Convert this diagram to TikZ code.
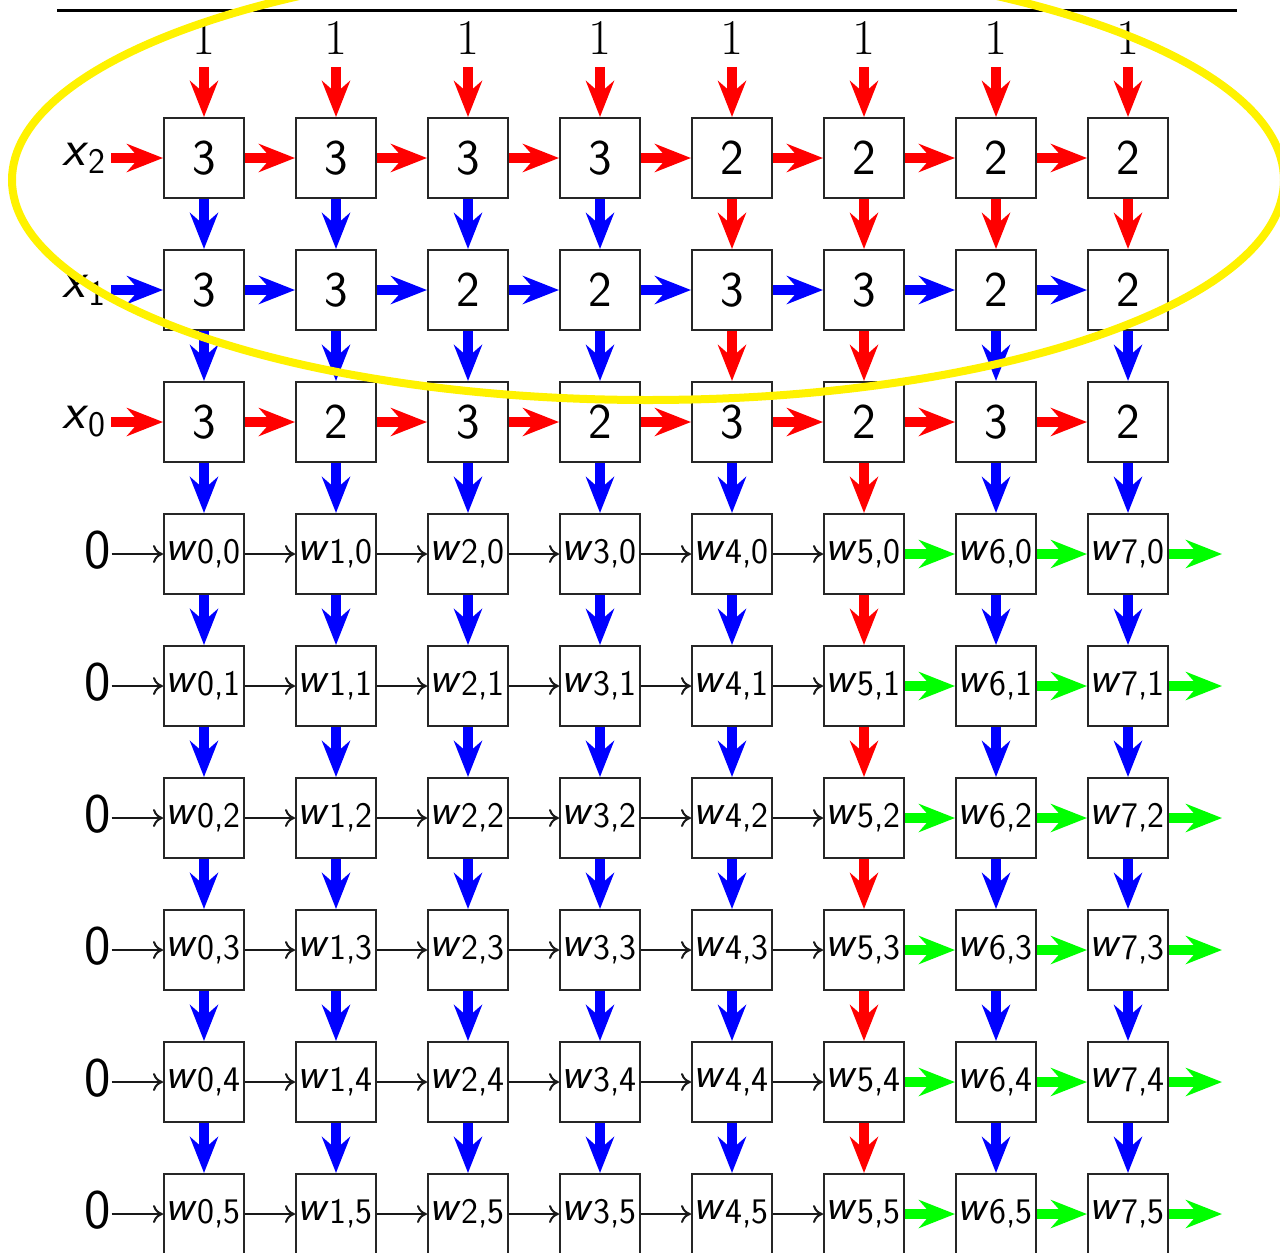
\documentclass[tikz,border=0pt]{standalone}
\usetikzlibrary{arrows.meta}
\tikzset{
  cell/.style={draw=black!85,fill=white,line width=1pt,minimum size=40pt,inner sep=0pt,font=\sffamily\fontsize{25}{30}\selectfont},
  wcell/.style={font=\sffamily\fontsize{22}{26}\selectfont},
  lbl/.style={inner sep=0pt,font=\sffamily\fontsize{26}{30}\selectfont},
  zero/.style={inner sep=0pt,font=\sffamily\fontsize{28}{32}\selectfont},
  onelbl/.style={inner sep=0pt,font=\rmfamily\fontsize{25}{30}\selectfont},
  fat/.style={line width=5pt,-{Stealth[length=18pt,width=14pt,inset=6pt]}},
  wire/.style={line width=1pt,draw=black!90,-{To[length=5pt,width=9pt]}},
  ring/.style={draw=yellow,line width=4pt},
}
\newcommand{\wlab}[2]{\kern-1pt\textit{#1}\raisebox{-0.2ex}{\fontsize{18}{18}\selectfont #2}}
\newcommand{\xlab}[2]{\textit{#1}\raisebox{-0.35ex}{\fontsize{18}{18}\selectfont #2}}
\begin{document}
\begin{tikzpicture}[x=0.5pt,y=-0.5pt]
\useasboundingbox (0,0) rectangle (1280,1253);
% rule above the array
\coordinate (ra) at (57,10);
\coordinate (rb) at (1237,10);
\draw[line width=1.5pt] (ra) -- (rb);
% --- the three counter rows
\foreach \j/\vals in {0/{3,3,3,3,2,2,2,2},1/{3,3,2,2,3,3,2,2},2/{3,2,3,2,3,2,3,2}}{
  \foreach \v [count=\k from 0] in \vals
    \node[cell] (b\k\j) at (204+132*\k,158+132*\j) {\v};
}
% --- the weight rows
\foreach \r [evaluate=\r as \j using int(\r-3)] in {3,...,8}{
  \foreach \k in {0,...,7}
    \node[cell,wcell] (b\k\r) at (204+132*\k,158+132*\r) {\wlab{w}{\k,\j}};
}
% --- inputs
\foreach \k in {0,...,7}
  \node[onelbl] (t\k) at (204+132*\k,38) {1};
\node[lbl] (l0) at (84,158) {\xlab{x}{2}};
\node[lbl] (l1) at (84,290) {\xlab{x}{1}};
\node[lbl] (l2) at (84,422) {\xlab{x}{0}};
\foreach \r in {3,...,8}
  \node[zero] (l\r) at (98,154+132*\r) {0};
% --- arrows into the top row
\foreach \k in {0,...,7}
  \draw[fat,red,shorten <=6pt] (t\k) -- (b\k0);
% --- along the counter rows
\foreach \j/\c in {0/red,1/blue,2/red}{
  \draw[fat,\c,shorten <=2.5pt] (l\j) -- (b0\j);
  \foreach \k [evaluate=\k as \n using int(\k+1)] in {0,...,6}
    \draw[fat,\c] (b\k\j) -- (b\n\j);
}
% --- along the weight rows
\foreach \r in {3,...,8}{
  \coordinate (o\r) at (1222,158+132*\r);
  \draw[wire] (l\r.east |- b0\r) -- (b0\r);
  \foreach \k [evaluate=\k as \n using int(\k+1)] in {0,...,4}
    \draw[wire] (b\k\r) -- (b\n\r);
  \draw[fat,green] (b5\r) -- (b6\r);
  \draw[fat,green] (b6\r) -- (b7\r);
  \draw[fat,green] (b7\r) -- (o\r);
}
% --- down the columns
\foreach \j/\cols in {0/{blue,blue,blue,blue,red,red,red,red},
                      1/{blue,blue,blue,blue,red,red,blue,blue}}{
  \pgfmathtruncatemacro\n{\j+1}
  \foreach \c [count=\k from 0] in \cols
    \draw[fat,\c] (b\k\j) -- (b\k\n);
}
\foreach \j in {2,...,7}{
  \pgfmathtruncatemacro\n{\j+1}
  \foreach \k in {0,...,7}{
    \ifnum\k=5 \def\c{red}\else\def\c{blue}\fi
    \draw[fat,\c] (b\k\j) -- (b\k\n);
  }
}
% highlight of the counter rows
\begin{scope}
  \clip (0,0) rectangle (1280,1253);
  \draw[ring] (648,180) ellipse [x radius=636,y radius=220];
\end{scope}
\end{tikzpicture}
\end{document}
